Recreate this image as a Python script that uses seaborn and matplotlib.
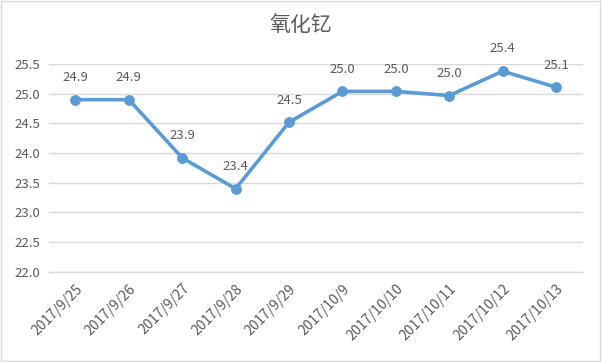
import pandas as pd
import matplotlib.pyplot as plt
import seaborn as sns

# 数据
dates = ["2017/9/25", "2017/9/26", "2017/9/27", "2017/9/28", "2017/9/29",
         "2017/10/9", "2017/10/10", "2017/10/11", "2017/10/12", "2017/10/13"]
prices = [24.9, 24.9, 23.92, 23.4, 24.52, 25.04, 25.04, 24.97, 25.38, 25.11]
labels = ["24.9", "24.9", "23.9", "23.4", "24.5", "25.0", "25.0", "25.0", "25.4", "25.1"]
yticks = [22.0, 22.5, 23.0, 23.5, 24.0, 24.5, 25.0, 25.5]

df = pd.DataFrame({"date": dates, "price": prices})
df["pos"] = range(len(df))

sns.set_style("white")
plt.rcParams["font.family"] = ["Noto Sans CJK SC", "DejaVu Sans"]

line_color = "#5B9BD5"
text_color = "#595959"
grid_color = "#D9D9D9"

fig = plt.figure(figsize=(6.02, 3.62), dpi=100)
ax = fig.add_axes([0.081, 0.249, 0.887, 0.574])

sns.lineplot(data=df, x="pos", y="price", ax=ax, color=line_color,
             linewidth=2.6, marker="o", markersize=7,
             markeredgecolor=line_color, markerfacecolor=line_color)

# 数据标签
for i, (v, t) in enumerate(zip(prices, labels)):
    ax.annotate(t, (i, v), xytext=(0, 16), textcoords="offset points",
                ha="center", va="center", fontsize=9.5, color=text_color)

ax.set_xlim(-0.5, len(dates) - 0.5)
ax.set_ylim(22.0, 25.5)
ax.set_yticks(yticks)
ax.set_yticklabels([f"{v:.1f}" for v in yticks], fontsize=9.5, color=text_color)
ax.set_xticks(range(len(dates)))
ax.set_xticklabels(dates, rotation=45, ha="right", rotation_mode="anchor",
                   fontsize=10, color=text_color)
ax.set_xticks([i - 0.5 for i in range(len(dates) + 1)], minor=True)
ax.tick_params(axis="x", which="major", length=0, pad=7)
ax.tick_params(axis="x", which="minor", length=5, color=grid_color, width=1)
ax.tick_params(axis="y", length=0, pad=6)

ax.grid(axis="y", color=grid_color, linewidth=1)
ax.set_axisbelow(True)
for s in ["top", "right", "left"]:
    ax.spines[s].set_visible(False)
ax.spines["bottom"].set_color(grid_color)
ax.spines["bottom"].set_linewidth(1)

ax.set_xlabel("")
ax.set_ylabel("")

fig.text(0.5, 0.93, "氧化钇", ha="center", va="center", fontsize=15,
         color=text_color)

# 外框
fig.patches.append(plt.Rectangle((0.002, 0.003), 0.995, 0.993, transform=fig.transFigure,
                                 fill=False, edgecolor=grid_color, linewidth=1))

plt.savefig("out.png", dpi=100)
